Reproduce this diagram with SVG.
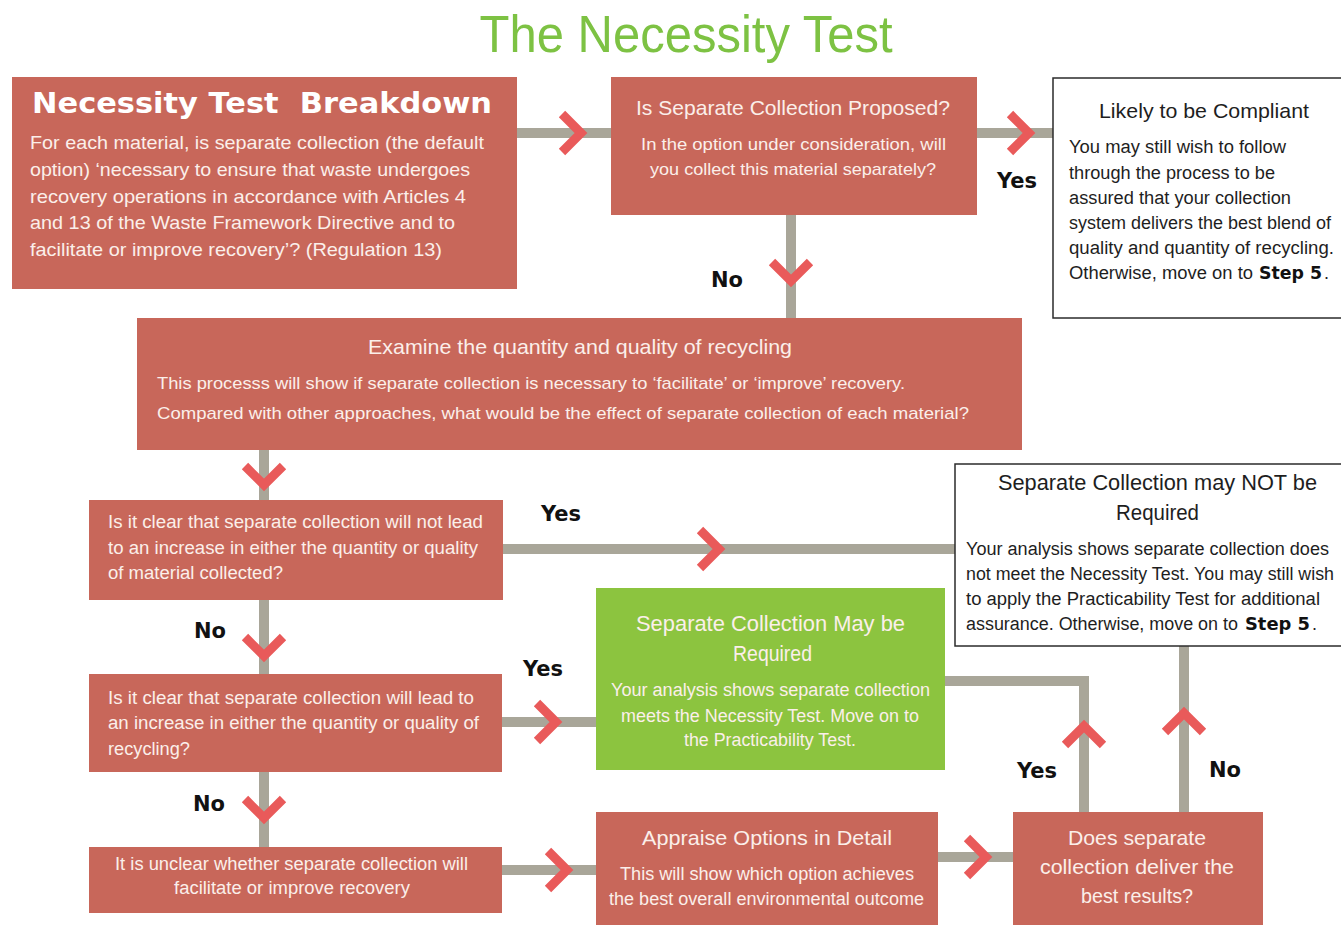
<svg xmlns="http://www.w3.org/2000/svg" width="1341" height="925" viewBox="0 0 1341 925">
<style>
.red{fill:#c8675a}
.green{fill:#8cc43f}
.wbox{fill:#ffffff;stroke:#2b2b2b;stroke-width:1.5}
.t{font-family:"Liberation Sans","DejaVu Sans",sans-serif;fill:#fbefea}
.h{font-size:21px}
.b{font-size:18px}
.d{fill:#1e1e1e}
.lbl{font-family:"DejaVu Sans","Liberation Sans",sans-serif;font-weight:bold;font-size:21px;fill:#111;text-anchor:middle}
.step{font-family:"DejaVu Sans","Liberation Sans",sans-serif;font-weight:bold;font-size:18px;fill:#111}
.line{fill:none;stroke:#a9a699;stroke-width:10}
.chev{fill:none;stroke:#e95a5a;stroke-width:9;stroke-linejoin:miter}
</style>
<rect width="1341" height="925" fill="#ffffff"/>
<text x="686" y="52" text-anchor="middle" font-family="Liberation Sans, DejaVu Sans, sans-serif" font-size="52" fill="#7dc243" textLength="413" lengthAdjust="spacingAndGlyphs">The Necessity Test</text>

<g id="connectors">
<path class="line" d="M517,133 H611"/>
<path class="line" d="M977,133 H1053"/>
<path class="line" d="M791,215 V318"/>
<path class="line" d="M264,450 V500"/>
<path class="line" d="M503,549 H955"/>
<path class="line" d="M264,600 V674"/>
<path class="line" d="M502,722 H596"/>
<path class="line" d="M264,772 V847"/>
<path class="line" d="M502,870 H596"/>
<path class="line" d="M938,857 H1013"/>
<path class="line" d="M1084,812 V681 H945"/>
<path class="line" d="M1184,812 V646"/>
<polyline class="chev" points="562,114 581,133 562,152"/>
<polyline class="chev" points="1010,114 1029,133 1010,152"/>
<polyline class="chev" points="772,262 791,281 810,262"/>
<polyline class="chev" points="245,466 264,485 283,466"/>
<polyline class="chev" points="700,530 719,549 700,568"/>
<polyline class="chev" points="245,637 264,656 283,637"/>
<polyline class="chev" points="537,703 556,722 537,741"/>
<polyline class="chev" points="245,799 264,818 283,799"/>
<polyline class="chev" points="548,851 567,870 548,889"/>
<polyline class="chev" points="967,838 986,857 967,876"/>
<polyline class="chev" points="1065,745 1084,726 1103,745"/>
<polyline class="chev" points="1165,732 1184,713 1203,732"/>
<text class="lbl" x="1017" y="188">Yes</text>
<text class="lbl" x="727" y="287">No</text>
<text class="lbl" x="561" y="521">Yes</text>
<text class="lbl" x="210" y="638">No</text>
<text class="lbl" x="543" y="676">Yes</text>
<text class="lbl" x="209" y="811">No</text>
<text class="lbl" x="1037" y="778">Yes</text>
<text class="lbl" x="1225" y="777">No</text>
</g>

<g id="breakdown">
<rect class="red" x="12" y="77" width="505" height="212"/>
<text x="32" y="113" xml:space="preserve" font-family="DejaVu Sans, Liberation Sans, sans-serif" font-weight="bold" font-size="29" fill="#ffffff" textLength="460" lengthAdjust="spacingAndGlyphs">Necessity Test  Breakdown</text>
<text class="t" x="30" y="149" font-size="19" textLength="454" lengthAdjust="spacingAndGlyphs">For each material, is separate collection (the default</text>
<text class="t" x="30" y="176" font-size="19" textLength="440" lengthAdjust="spacingAndGlyphs">option) ‘necessary to ensure that waste undergoes</text>
<text class="t" x="30" y="203" font-size="19" textLength="436" lengthAdjust="spacingAndGlyphs">recovery operations in accordance with Articles 4</text>
<text class="t" x="30" y="229" font-size="19" textLength="425" lengthAdjust="spacingAndGlyphs">and 13 of the Waste Framework Directive and to</text>
<text class="t" x="30" y="256" font-size="19" textLength="412" lengthAdjust="spacingAndGlyphs">facilitate or improve recovery’? (Regulation 13)</text>
</g>

<g id="proposed">
<rect class="red" x="611" y="77" width="366" height="138"/>
<text class="t h" x="636" y="115" textLength="314" lengthAdjust="spacingAndGlyphs">Is Separate Collection Proposed?</text>
<text class="t" x="641" y="150" font-size="17" textLength="305" lengthAdjust="spacingAndGlyphs">In the option under consideration, will</text>
<text class="t" x="650" y="175" font-size="17" textLength="286" lengthAdjust="spacingAndGlyphs">you collect this material separately?</text>
</g>

<g id="compliant">
<rect class="wbox" x="1053" y="78" width="300" height="240"/>
<text class="t h d" x="1099" y="118" textLength="210" lengthAdjust="spacingAndGlyphs">Likely to be Compliant</text>
<text class="t b d" x="1069" y="153" textLength="217" lengthAdjust="spacingAndGlyphs">You may still wish to follow</text>
<text class="t b d" x="1069" y="179" textLength="206" lengthAdjust="spacingAndGlyphs">through the process to be</text>
<text class="t b d" x="1069" y="204" textLength="222" lengthAdjust="spacingAndGlyphs">assured that your collection</text>
<text class="t b d" x="1069" y="229" textLength="262" lengthAdjust="spacingAndGlyphs">system delivers the best blend of</text>
<text class="t b d" x="1069" y="254" textLength="265" lengthAdjust="spacingAndGlyphs">quality and quantity of recycling.</text>
<text class="t b d" x="1069" y="279" textLength="184" lengthAdjust="spacingAndGlyphs">Otherwise, move on to</text>
<text class="step" x="1259" y="279" textLength="63" lengthAdjust="spacingAndGlyphs">Step 5</text>
<text class="t b d" x="1324" y="279">.</text>
</g>

<g id="examine">
<rect class="red" x="137" y="318" width="885" height="132"/>
<text class="t h" x="368" y="354" textLength="424" lengthAdjust="spacingAndGlyphs">Examine the quantity and quality of recycling</text>
<text class="t" x="157" y="389" font-size="17" textLength="748" lengthAdjust="spacingAndGlyphs">This processs will show if separate collection is necessary to ‘facilitate’ or ‘improve’ recovery.</text>
<text class="t" x="157" y="419" font-size="17" textLength="812" lengthAdjust="spacingAndGlyphs">Compared with other approaches, what would be the effect of separate collection of each material?</text>
</g>

<g id="q-no-increase">
<rect class="red" x="89" y="500" width="414" height="100"/>
<text class="t b" x="108" y="528" textLength="375" lengthAdjust="spacingAndGlyphs">Is it clear that separate collection will not lead</text>
<text class="t b" x="108" y="554" textLength="370" lengthAdjust="spacingAndGlyphs">to an increase in either the quantity or quality</text>
<text class="t b" x="108" y="579" textLength="175" lengthAdjust="spacingAndGlyphs">of material collected?</text>
</g>

<g id="not-required">
<rect class="wbox" x="955" y="464" width="400" height="182"/>
<text class="t d" x="998" y="490" font-size="22" textLength="319" lengthAdjust="spacingAndGlyphs">Separate Collection may NOT be</text>
<text class="t d" x="1116" y="520" font-size="22" textLength="83" lengthAdjust="spacingAndGlyphs">Required</text>
<text class="t b d" x="966" y="555" textLength="363" lengthAdjust="spacingAndGlyphs">Your analysis shows separate collection does</text>
<text class="t b d" x="966" y="580" textLength="368" lengthAdjust="spacingAndGlyphs">not meet the Necessity Test. You may still wish</text>
<text class="t b d" x="966" y="605" textLength="354" lengthAdjust="spacingAndGlyphs">to apply the Practicability Test for additional</text>
<text class="t b d" x="966" y="630" textLength="272" lengthAdjust="spacingAndGlyphs">assurance. Otherwise, move on to</text>
<text class="step" x="1245" y="630" textLength="65" lengthAdjust="spacingAndGlyphs">Step 5</text>
<text class="t b d" x="1312" y="630">.</text>
</g>

<g id="q-increase">
<rect class="red" x="89" y="674" width="413" height="98"/>
<text class="t b" x="108" y="704" textLength="366" lengthAdjust="spacingAndGlyphs">Is it clear that separate collection will lead to</text>
<text class="t b" x="108" y="729" textLength="371" lengthAdjust="spacingAndGlyphs">an increase in either the quantity or quality of</text>
<text class="t b" x="108" y="755" textLength="82" lengthAdjust="spacingAndGlyphs">recycling?</text>
</g>

<g id="may-be-required">
<rect class="green" x="596" y="588" width="349" height="182"/>
<text class="t" x="636" y="631" font-size="22" textLength="269" lengthAdjust="spacingAndGlyphs">Separate Collection May be</text>
<text class="t" x="733" y="661" font-size="22" textLength="79" lengthAdjust="spacingAndGlyphs">Required</text>
<text class="t b" x="611" y="696" textLength="319" lengthAdjust="spacingAndGlyphs">Your analysis shows separate collection</text>
<text class="t b" x="621" y="722" textLength="298" lengthAdjust="spacingAndGlyphs">meets the Necessity Test. Move on to</text>
<text class="t b" x="684" y="746" textLength="172" lengthAdjust="spacingAndGlyphs">the Practicability Test.</text>
</g>

<g id="unclear">
<rect class="red" x="89" y="847" width="413" height="66"/>
<text class="t b" x="115" y="870" textLength="353" lengthAdjust="spacingAndGlyphs">It is unclear whether separate collection will</text>
<text class="t b" x="174" y="894" textLength="236" lengthAdjust="spacingAndGlyphs">facilitate or improve recovery</text>
</g>

<g id="appraise">
<rect class="red" x="596" y="812" width="342" height="118"/>
<text class="t h" x="642" y="845" textLength="250" lengthAdjust="spacingAndGlyphs">Appraise Options in Detail</text>
<text class="t b" x="620" y="880" textLength="294" lengthAdjust="spacingAndGlyphs">This will show which option achieves</text>
<text class="t b" x="609" y="905" textLength="315" lengthAdjust="spacingAndGlyphs">the best overall environmental outcome</text>
</g>

<g id="best-results">
<rect class="red" x="1013" y="812" width="250" height="118"/>
<text class="t h" x="1068" y="845" textLength="138" lengthAdjust="spacingAndGlyphs">Does separate</text>
<text class="t h" x="1040" y="874" textLength="194" lengthAdjust="spacingAndGlyphs">collection deliver the</text>
<text class="t h" x="1081" y="903" textLength="112" lengthAdjust="spacingAndGlyphs">best results?</text>
</g>
</svg>
